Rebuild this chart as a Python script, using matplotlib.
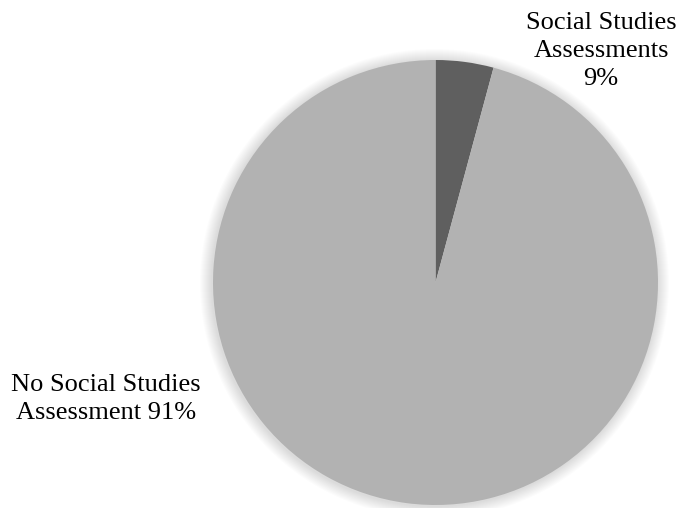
import matplotlib.pyplot as plt
from matplotlib.patches import Circle

plt.rcParams["font.family"] = ["Liberation Serif", "DejaVu Serif"]

# slice sizes as drawn, and their labels as printed on the chart
categories = ["Social Studies\nAssessments\n9%", "No Social Studies\nAssessment 91%"]
shares = [4.2, 95.8]
colors = ["#5f5f5f", "#b2b2b2"]

W, H = 682, 508
fig = plt.figure(figsize=(W / 100, H / 100), dpi=100)
ax = fig.add_axes([0, 0, 1, 1])

cx, cy, r = 435.5, H - 282.5, 222.5

# soft shadow around the pie
for k in range(12, 0, -1):
    ax.add_patch(Circle((cx - 1, cy - 1), r + k, color="#000000", alpha=0.012, lw=0, zorder=0))

ax.pie(
    shares,
    colors=colors,
    startangle=90,
    counterclock=False,
    center=(cx, cy),
    radius=r,
    frame=True,
    wedgeprops={"linewidth": 0},
)
ax.set_xlim(0, W)
ax.set_ylim(0, H)
ax.set_aspect("equal")
ax.axis("off")

ax.text(601, H - 51, categories[0], ha="center", va="center", fontsize=19, linespacing=1.33)
ax.text(106, H - 399, categories[1], ha="center", va="center", fontsize=19, linespacing=1.33)

fig.savefig("out.png", dpi=100)
